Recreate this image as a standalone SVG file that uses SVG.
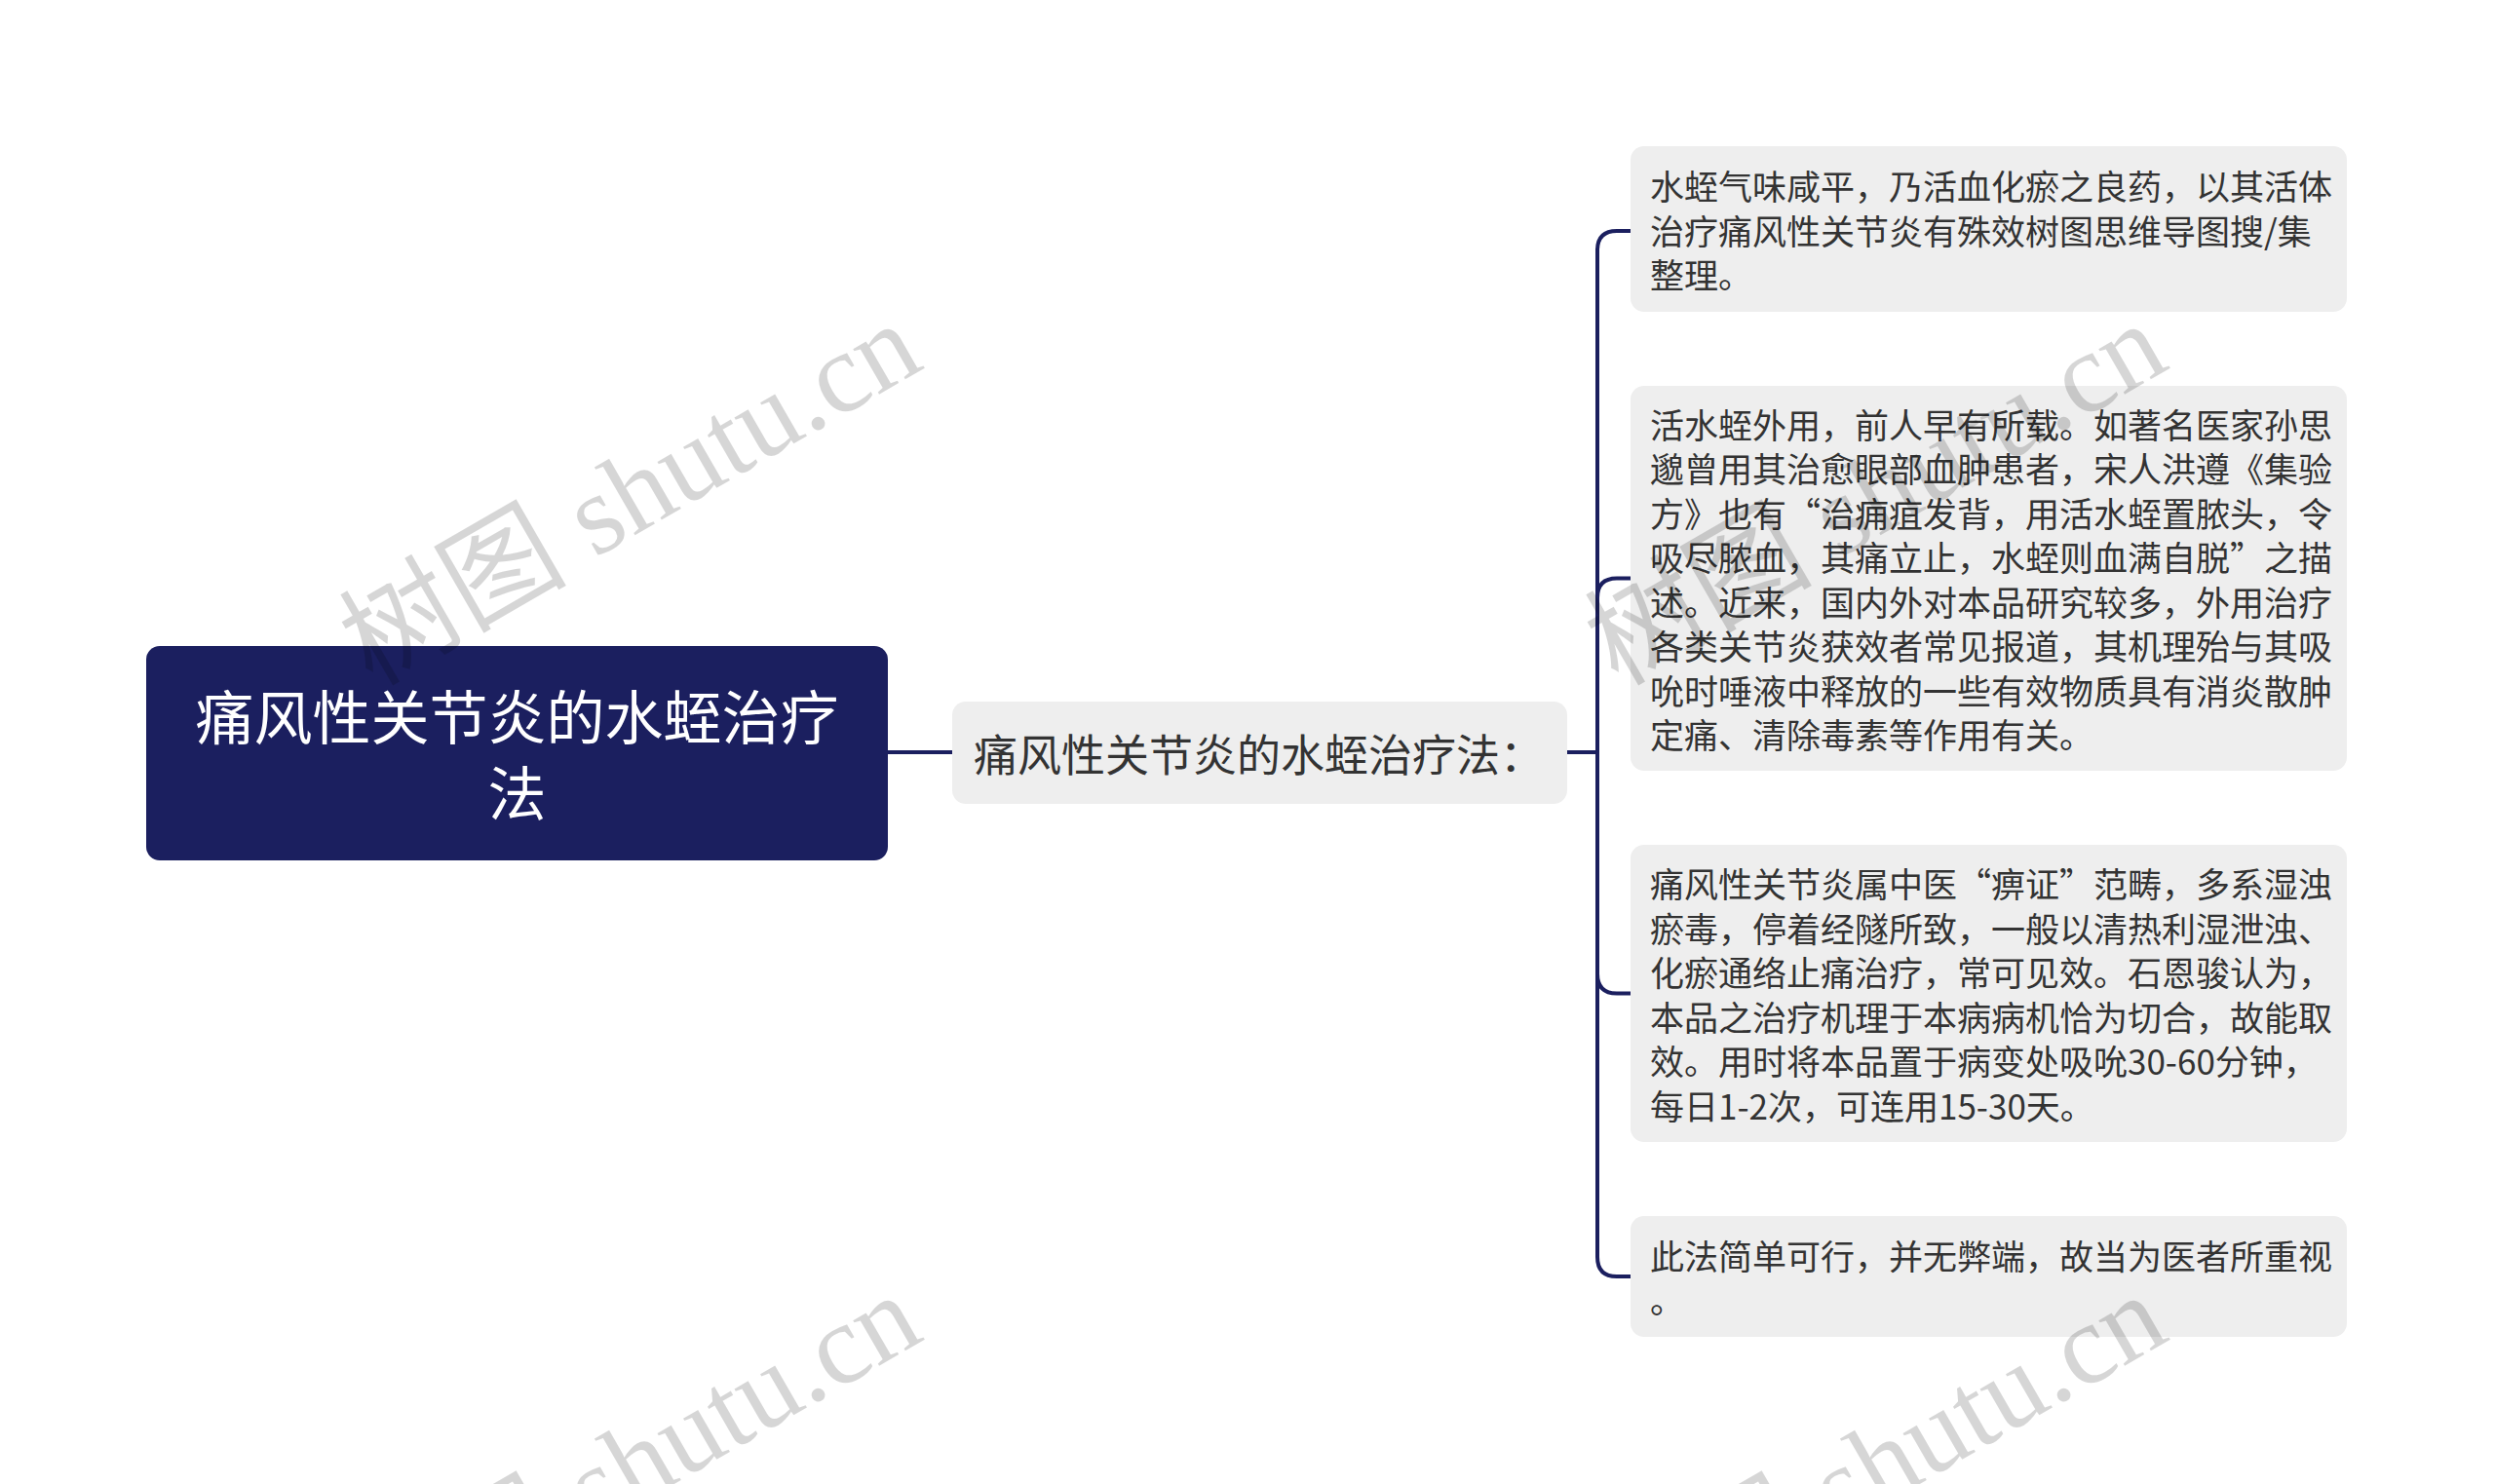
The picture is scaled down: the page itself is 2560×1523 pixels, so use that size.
<svg xmlns="http://www.w3.org/2000/svg" width="2560" height="1523" viewBox="0 0 2560 1523">
<style>
.bg{fill:#ffffff}
.root-box{fill:#1b1f5f}
.sub-box{fill:#eeeeee}
.t{font-family:"Noto Sans CJK SC","Noto Sans",sans-serif;dominant-baseline:central}
.root-t{fill:#ffffff;font-size:60px;text-anchor:middle}
.mid-t{fill:#333333;font-size:45px}
.leaf-t{fill:#333333;font-size:35px}
.conn{fill:none;stroke:#1b1f5f;stroke-width:4;stroke-linecap:round}
.wm{font-family:"Liberation Serif","Noto Sans CJK SC",serif;font-size:117px;fill:#000000;fill-opacity:0.16}
</style>
<rect class="bg" x="0" y="0" width="2560" height="1523"/>
<g id="connectors">
<path class="conn" d="M911 772 H978"/>
<path class="conn" d="M1608 772 H1639"/>
<path class="conn" d="M1639 772 V257 Q1639 237 1659 237 H1673"/>
<path class="conn" d="M1639 772 V613.5 Q1639 593.5 1659 593.5 H1673"/>
<path class="conn" d="M1639 772 V999.5 Q1639 1019.5 1659 1019.5 H1673"/>
<path class="conn" d="M1639 772 V1290 Q1639 1310 1659 1310 H1673"/>
</g>
<g id="root">
<rect class="root-box" x="150" y="663" width="761" height="220" rx="14"/>
<text class="t root-t" x="530.5" y="732">痛风性关节炎的水蛭治疗</text>
<text class="t root-t" x="530.5" y="810">法</text>
</g>
<g id="mid">
<rect class="sub-box" x="977" y="720" width="631" height="105" rx="14"/>
<text class="t mid-t" x="999" y="772">痛风性关节炎的水蛭治疗法：</text>
</g>
<g id="leaf1">
<rect class="sub-box" x="1673" y="150" width="735" height="170" rx="14"/>
<text class="t leaf-t" x="1693" y="189.5">水蛭气味咸平，乃活血化瘀之良药，以其活体</text>
<text class="t leaf-t" x="1693" y="235">治疗痛风性关节炎有殊效树图思维导图搜/集</text>
<text class="t leaf-t" x="1693" y="280.5">整理。</text>
</g>
<g id="leaf2">
<rect class="sub-box" x="1673" y="396" width="735" height="395" rx="14"/>
<text class="t leaf-t" x="1693" y="434.25">活水蛭外用，前人早有所载。如著名医家孙思</text>
<text class="t leaf-t" x="1693" y="479.75">邈曾用其治愈眼部血肿患者，宋人洪遵《集验</text>
<text class="t leaf-t" x="1693" y="525.25">方》也有“治痈疽发背，用活水蛭置脓头，令</text>
<text class="t leaf-t" x="1693" y="570.75">吸尽脓血，其痛立止，水蛭则血满自脱”之描</text>
<text class="t leaf-t" x="1693" y="616.25">述。近来，国内外对本品研究较多，外用治疗</text>
<text class="t leaf-t" x="1693" y="661.75">各类关节炎获效者常见报道，其机理殆与其吸</text>
<text class="t leaf-t" x="1693" y="707.25">吮时唾液中释放的一些有效物质具有消炎散肿</text>
<text class="t leaf-t" x="1693" y="752.75">定痛、清除毒素等作用有关。</text>
</g>
<g id="leaf3">
<rect class="sub-box" x="1673" y="867" width="735" height="305" rx="14"/>
<text class="t leaf-t" x="1693" y="905.75">痛风性关节炎属中医“痹证”范畴，多系湿浊</text>
<text class="t leaf-t" x="1693" y="951.25">瘀毒，停着经隧所致，一般以清热利湿泄浊、</text>
<text class="t leaf-t" x="1693" y="996.75">化瘀通络止痛治疗，常可见效。石恩骏认为，</text>
<text class="t leaf-t" x="1693" y="1042.25">本品之治疗机理于本病病机恰为切合，故能取</text>
<text class="t leaf-t" x="1693" y="1087.75">效。用时将本品置于病变处吸吮30-60分钟，</text>
<text class="t leaf-t" x="1693" y="1133.25">每日1-2次，可连用15-30天。</text>
</g>
<g id="leaf4">
<rect class="sub-box" x="1673" y="1248" width="735" height="124" rx="14"/>
<text class="t leaf-t" x="1693" y="1287.25">此法简单可行，并无弊端，故当为医者所重视</text>
<text class="t leaf-t" x="1693" y="1332.75">。</text>
</g>
<g id="watermarks">
<text class="wm" x="382" y="705" transform="rotate(-30 382 705)">树图 shutu.cn</text>
<text class="wm" x="1660" y="705" transform="rotate(-30 1660 705)">树图 shutu.cn</text>
<text class="wm" x="382" y="1702" transform="rotate(-30 382 1702)">树图 shutu.cn</text>
<text class="wm" x="1660" y="1702" transform="rotate(-30 1660 1702)">树图 shutu.cn</text>
</g>
</svg>
